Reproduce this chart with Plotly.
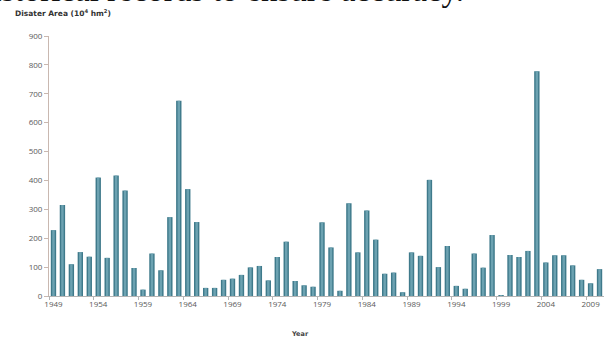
import plotly.graph_objects as go

# Annual disaster area, 1949-2010 (10^4 hm^2)
years = list(range(1949, 2011))
disaster_area = [
    228, 315, 110, 152, 136, 410, 132, 417, 365, 97,
    22, 147, 89, 273, 676, 370, 256, 28, 28, 56,
    60, 73, 99, 104, 54, 135, 188, 52, 37, 32,
    255, 168, 18, 321, 151, 296, 195, 77, 81, 13,
    151, 139, 402, 100, 173, 35, 25, 147, 98, 211,
    2, 142, 135, 156, 778, 116, 141, 141, 106, 56,
    44, 93,
]
tick_years = list(range(1949, 2010, 5))

W, H = 609, 338
L, R, T, B = 49, 5, 36, 42
pw, ph = W - L - R, H - T - B


def px_x(x):
    return (x - L) / pw


def px_y(y):
    return (H - B - y) / ph


fig = go.Figure()
# body of each column
fig.add_trace(go.Bar(
    x=years, y=disaster_area, width=0.6,
    marker=dict(color="#3f7a8b", line=dict(width=0)),
    hoverinfo="x+y",
))
# lighter centre strip for the rounded look
fig.add_trace(go.Bar(
    x=years, y=disaster_area, width=0.28,
    marker=dict(color="#74a9b8", line=dict(width=0)),
    opacity=0.85, hoverinfo="skip",
))

fig.update_layout(
    width=W, height=H,
    margin=dict(l=L, r=R, t=T, b=B, pad=0),
    paper_bgcolor="white", plot_bgcolor="white",
    barmode="overlay", showlegend=False,
    font=dict(family="Open Sans, DejaVu Sans, sans-serif", size=8, color="#6b6b6b"),
    xaxis=dict(
        range=[1948.5, 2010.5],
        tickmode="array", tickvals=tick_years,
        ticktext=[str(v) for v in tick_years],
        ticks="", showgrid=False, zeroline=False,
        showline=True, linecolor="#b5b5b5", linewidth=1,
        tickfont=dict(size=8, color="#5a5a5a"),
        minor=dict(tickmode="array", tickvals=[v - 0.5 for v in tick_years],
                   ticks="outside", ticklen=3, tickcolor="#b5b5b5", showgrid=False),
    ),
    yaxis=dict(
        range=[0, 900], tickmode="array", tickvals=list(range(0, 901, 100)),
        ticks="outside", ticklen=4, tickcolor="#c9b8b0",
        showgrid=False, zeroline=False,
        showline=True, linecolor="#c9b8b0", linewidth=1,
        tickfont=dict(size=8, color="#5a5a5a"),
    ),
    annotations=[
        dict(text="<b>Disater Area (10<sup>4</sup> hm<sup>2</sup>)</b>",
             xref="paper", yref="paper", x=px_x(13), y=px_y(13),
             xanchor="left", yanchor="middle", showarrow=False,
             font=dict(size=7.5, color="#333333", family="DejaVu Sans, sans-serif")),
        dict(text="<b>Year</b>",
             xref="paper", yref="paper", x=px_x(300), y=px_y(334),
             xanchor="center", yanchor="middle", showarrow=False,
             font=dict(size=6.5, color="#444444", family="DejaVu Sans, sans-serif")),
        dict(text="historical records to ensure accuracy.",
             xref="paper", yref="paper", x=px_x(466), y=px_y(-10),
             xanchor="right", yanchor="middle", showarrow=False,
             font=dict(size=33, color="#111111", family="Liberation Serif, serif")),
    ],
)

fig.write_html("out.html")
